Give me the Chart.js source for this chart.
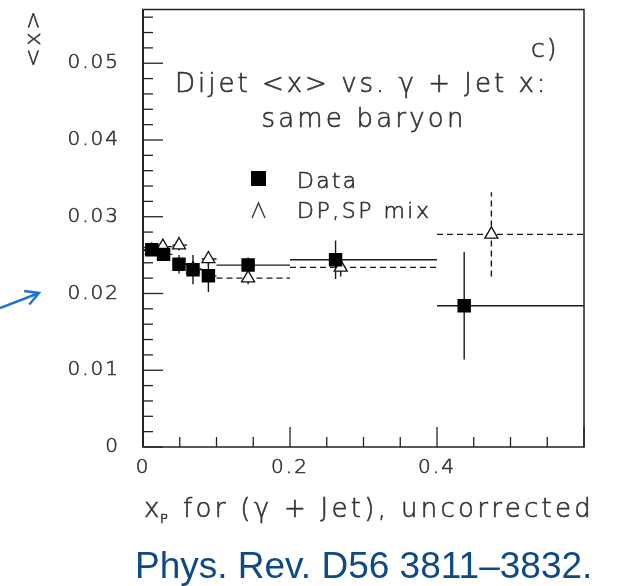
<!DOCTYPE html>
<html><head><meta charset="utf-8">
<script src="https://cdn.jsdelivr.net/npm/chart.js@4.4.0/dist/chart.umd.min.js"></script>
<style>html,body{margin:0;padding:0;background:#fff;} canvas{display:block;}</style>
</head><body>
<canvas id="c" width="617" height="586"></canvas>
<script>
// ---- data ----
const xTickLabels = [0, 0.2, 0.4];
const yTickLabels = [0, 0.01, 0.02, 0.03, 0.04, 0.05];

const dataX    = [0.012, 0.028, 0.049, 0.068, 0.089, 0.143, 0.262, 0.437];
const dataY    = [0.0257, 0.0251, 0.0238, 0.0231, 0.0223, 0.0237, 0.0244, 0.0184];
const dataYErr = [0.0006, 0.0006, 0.0012, 0.0019, 0.0021, 0.0010, 0.0025, 0.0070];
const dataXLo  = [0.0, 0.02, 0.04, 0.06, 0.08, 0.1, 0.2, 0.4];
const dataXHi  = [0.02, 0.04, 0.06, 0.08, 0.1, 0.2, 0.4, 0.6];

const mcX    = [0.012, 0.027, 0.049, 0.068, 0.089, 0.143, 0.269, 0.474];
const mcY    = [0.0256, 0.0261, 0.0263, 0.0232, 0.0245, 0.0220, 0.0234, 0.0277];
const mcYErr = [0.0005, 0.0005, 0.0007, 0.0008, 0.0009, 0.0008, 0.0012, 0.0055];
const mcXLo  = [0.0, 0.02, 0.04, 0.06, 0.08, 0.1, 0.2, 0.4];
const mcXHi  = [0.02, 0.04, 0.06, 0.08, 0.1, 0.2, 0.4, 0.6];

const FONT = '"DejaVu Sans", sans-serif';
const INK = '#222';
const TXT = '#333';

function txt(ctx, s, x, y, size, spacing, align) {
  ctx.font = '200 ' + size + 'px ' + FONT;
  ctx.letterSpacing = spacing + 'px';
  ctx.textAlign = align || 'left';
  ctx.fillText(s, x, y);
  ctx.strokeText(s, x, y);
}

const decor = {
  id: 'decor',
  beforeDraw(chart) {
    chart.ctx.letterSpacing = '2px';
  },
  beforeDatasetsDraw(chart) {
    const {ctx, chartArea: a, scales: {x, y}} = chart;
    ctx.save();
    ctx.strokeStyle = INK;
    ctx.lineWidth = 1.5;
    ctx.strokeRect(a.left, a.top, a.right - a.left, a.bottom - a.top);
    ctx.lineWidth = 2;
    ctx.beginPath(); ctx.moveTo(a.left, a.top); ctx.lineTo(a.left, a.bottom); ctx.stroke();
    ctx.lineWidth = 1.3;
    for (let k = 0; k <= 28; k++) {
      const py = y.getPixelForValue(k * 0.002);
      const len = (k % 5 === 0) ? 20 : 10;
      ctx.beginPath(); ctx.moveTo(a.left, py); ctx.lineTo(a.left + len, py); ctx.stroke();
    }
    for (let k = 0; k <= 12; k++) {
      const px = x.getPixelForValue(k * 0.05);
      const len = (k % 4 === 0) ? 20 : 10;
      ctx.beginPath(); ctx.moveTo(px, a.bottom); ctx.lineTo(px, a.bottom - len); ctx.stroke();
    }
    ctx.strokeStyle = '#1a1a1a';
    ctx.lineWidth = 1.4;
    ctx.setLineDash([]);
    dataX.forEach((xv, i) => {
      const py = y.getPixelForValue(dataY[i]);
      const px = x.getPixelForValue(xv);
      ctx.beginPath();
      ctx.moveTo(x.getPixelForValue(dataXLo[i]), py);
      ctx.lineTo(x.getPixelForValue(dataXHi[i]), py);
      ctx.moveTo(px, y.getPixelForValue(dataY[i] - dataYErr[i]));
      ctx.lineTo(px, y.getPixelForValue(dataY[i] + dataYErr[i]));
      ctx.stroke();
    });
    ctx.setLineDash([6, 4]);
    mcX.forEach((xv, i) => {
      const py = y.getPixelForValue(mcY[i]);
      const px = x.getPixelForValue(xv);
      ctx.beginPath();
      ctx.moveTo(x.getPixelForValue(mcXLo[i]), py);
      ctx.lineTo(x.getPixelForValue(mcXHi[i]), py);
      ctx.moveTo(px, y.getPixelForValue(mcY[i] - mcYErr[i]));
      ctx.lineTo(px, y.getPixelForValue(mcY[i] + mcYErr[i]));
      ctx.stroke();
    });
    ctx.restore();
  },
  afterDraw(chart) {
    const {ctx} = chart;
    ctx.save();
    ctx.fillStyle = TXT;
    ctx.strokeStyle = TXT;
    ctx.lineWidth = 0.6;
    ctx.textBaseline = 'alphabetic';
    // y title, rotated
    ctx.save();
    ctx.translate(40, 39);
    ctx.rotate(-Math.PI / 2);
    txt(ctx, '<x>', 1.5, 0, 22, 3, 'center');
    ctx.restore();
    // panel texts
    txt(ctx, 'c)', 531, 57, 25, 2);
    txt(ctx, 'Dijet <x> vs. \u03B3 + Jet x:', 175, 92, 26, 3);
    txt(ctx, 'same baryon', 364, 127, 26, 3.2, 'center');
    // legend
    ctx.fillStyle = '#000';
    ctx.fillRect(251, 171, 15, 15);
    ctx.fillStyle = TXT;
    txt(ctx, 'Data', 297, 188, 22, 2.2);
    txt(ctx, 'DP,SP mix', 297, 218, 22, 2.5);
    ctx.strokeStyle = '#333';
    ctx.lineWidth = 1.3;
    ctx.beginPath(); ctx.moveTo(252, 218); ctx.lineTo(258.5, 203); ctx.lineTo(265, 218); ctx.stroke();
    // x title
    ctx.strokeStyle = TXT;
    ctx.lineWidth = 0.6;
    txt(ctx, 'x', 144, 517, 26, 0);
    txt(ctx, 'P', 160, 523, 13, 0);
    txt(ctx, 'for (\u03B3 + Jet), uncorrected', 183, 517, 26, 3.3);
    // arrow
    ctx.letterSpacing = '0px';
    ctx.strokeStyle = '#1f72d4';
    ctx.lineWidth = 2.5;
    const tx = 39, ty = 293, sx = 0, sy = 308;
    const ang = Math.atan2(ty - sy, tx - sx);
    ctx.beginPath(); ctx.moveTo(sx, sy); ctx.lineTo(tx, ty);
    ctx.moveTo(tx - 15 * Math.cos(ang - 0.5), ty - 15 * Math.sin(ang - 0.5)); ctx.lineTo(tx, ty);
    ctx.lineTo(tx - 15 * Math.cos(ang + 0.5), ty - 15 * Math.sin(ang + 0.5));
    ctx.stroke();
    // citation
    ctx.fillStyle = '#0e4a86';
    ctx.font = '37px "Liberation Sans", Arial, sans-serif';
    ctx.textAlign = 'left';
    ctx.fillText('Phys. Rev. D56 3811\u20133832.', 135, 578);
    ctx.restore();
  }
};

new Chart(document.getElementById('c'), {
  type: 'scatter',
  data: {
    datasets: [
      {
        label: 'Data',
        data: dataX.map((v, i) => ({x: v, y: dataY[i]})),
        pointStyle: 'rect', pointRadius: 9.5, pointHoverRadius: 9.5,
        backgroundColor: '#000', borderColor: '#000', borderWidth: 0,
        order: 0
      },
      {
        label: 'DP,SP mix',
        data: mcX.map((v, i) => ({x: v, y: mcY[i]})),
        pointStyle: 'triangle', pointRadius: 7.5, pointHoverRadius: 7.5,
        backgroundColor: '#fff', borderColor: '#111', borderWidth: 1.3,
        order: 1
      }
    ]
  },
  options: {
    responsive: false, animation: false, devicePixelRatio: 1,
    layout: {padding: {top: 7, right: 33, left: 0, bottom: 0}},
    plugins: {legend: {display: false}, tooltip: {enabled: false}},
    scales: {
      x: {
        type: 'linear', min: 0, max: 0.6,
        afterBuildTicks: s => { s.ticks = xTickLabels.map(v => ({value: v})); },
        afterFit: s => { s.height = 139; s.paddingLeft = 0; s.paddingRight = 0; },
        grid: {display: false, drawTicks: false},
        border: {display: false},
        ticks: {padding: 9, color: TXT, textStrokeColor: TXT, textStrokeWidth: 0.6,
                font: {family: FONT, size: 20, weight: '200'},
                callback: v => v === 0 ? '0' : v.toFixed(1)}
      },
      y: {
        type: 'linear', min: 0, max: 0.057,
        afterBuildTicks: s => { s.ticks = yTickLabels.map(v => ({value: v})); },
        afterFit: s => { s.width = 143; s.paddingTop = 0; s.paddingBottom = 0; },
        grid: {display: false, drawTicks: false},
        border: {display: false},
        ticks: {padding: 23, color: TXT, textStrokeColor: TXT, textStrokeWidth: 0.6,
                font: {family: FONT, size: 20, weight: '200'},
                callback: v => v === 0 ? '0' : v.toFixed(2)}
      }
    }
  },
  plugins: [decor]
});
</script>
</body></html>
